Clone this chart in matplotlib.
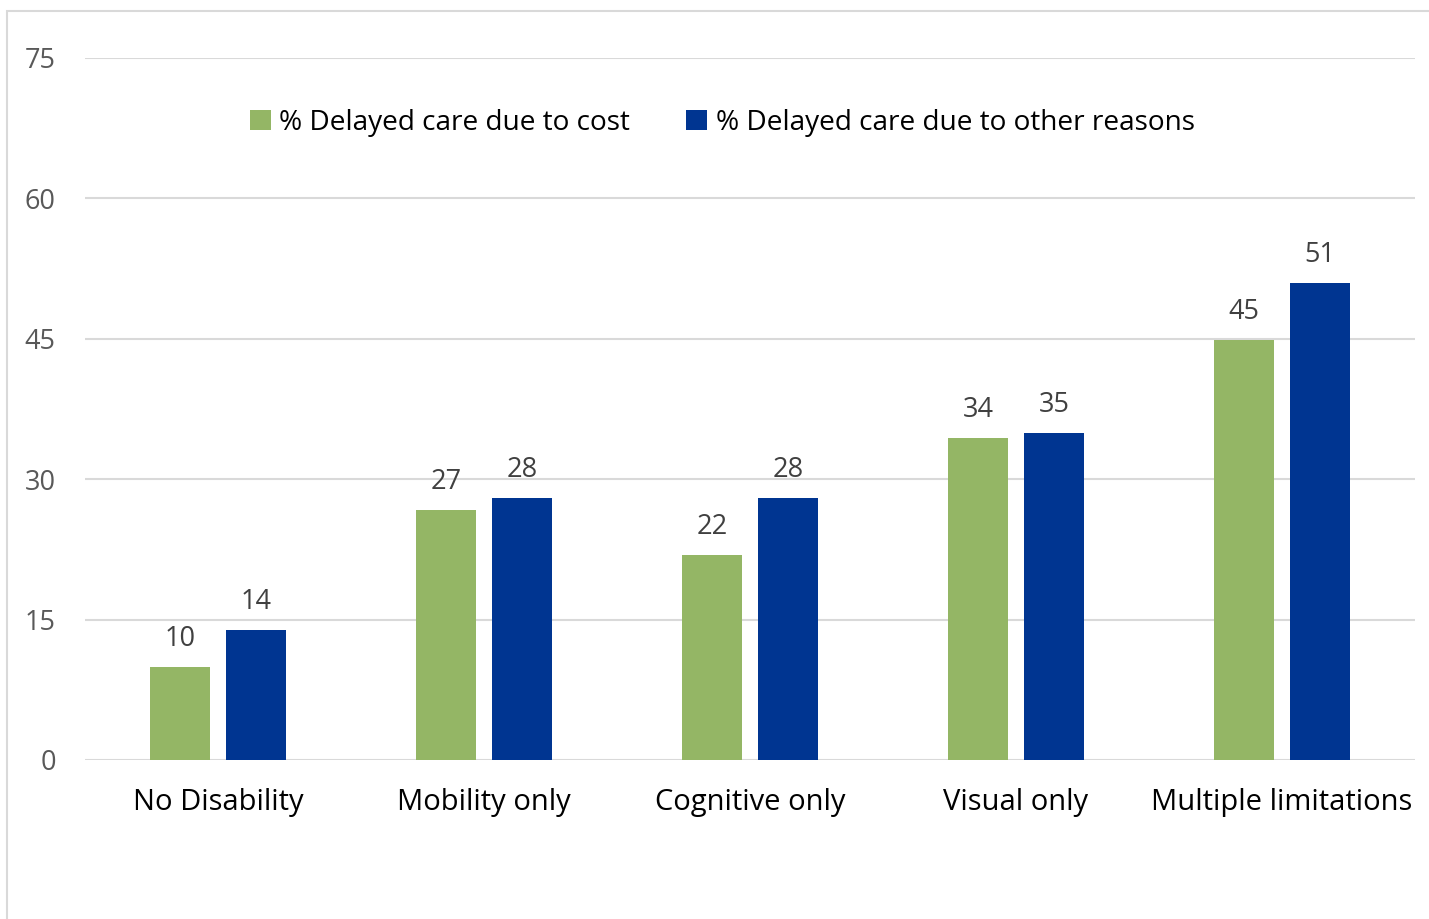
import matplotlib.pyplot as plt
import numpy as np
from matplotlib.patches import Rectangle

# Data
categories = ["No Disability", "Mobility only", "Cognitive only", "Visual only", "Multiple limitations"]
cost = [9.9, 26.7, 21.9, 34.4, 44.9]
other = [13.9, 28.0, 28.0, 34.9, 51.0]
series_names = ["% Delayed care due to cost", "% Delayed care due to other reasons"]

green = "#94b665"
blue = "#003591"

plt.rcParams['font.family'] = ['Open Sans', 'DejaVu Sans']

fig = plt.figure(figsize=(14.29, 9.19), dpi=100)
ax = fig.add_axes([85/1429, 1 - 760/919, 1330/1429, 702/919])

# light frame around the chart area
fig.patches.append(Rectangle((7/1429, -0.1), 1.2, 1 - 11/919 + 0.1, transform=fig.transFigure,
                             fill=False, edgecolor="#d9d9d9", linewidth=1.5))

x = np.arange(len(categories))
w = 60/266
off = 38/266
b1 = ax.bar(x - off, cost, w, color=green, label=series_names[0], zorder=3)
b2 = ax.bar(x + off, other, w, color=blue, label=series_names[1], zorder=3)

for bars in (b1, b2):
    for r in bars:
        ax.annotate(f"{r.get_height():.0f}", (r.get_x() + r.get_width()/2, r.get_height()),
                    xytext=(0, 10), textcoords="offset points", ha="center", va="bottom",
                    fontsize=19.5, color="#404040")

ax.set_xlim(-0.5, 4.5)
ax.set_ylim(0, 75)
ax.set_yticks([0, 15, 30, 45, 60, 75])
ax.set_xticks(x)
ax.set_xticklabels(categories, fontsize=21, color="#000000")
ax.tick_params(axis="y", labelsize=19.5, labelcolor="#595959", length=0, pad=21)
ax.tick_params(axis="x", length=0, pad=20)
ax.grid(axis="y", color="#d9d9d9", linewidth=1.5, zorder=0)
for s in ax.spines.values():
    s.set_visible(False)

ax.legend(loc="center", bbox_to_anchor=(0.479, (760-123)/702), ncol=2, frameon=False,
          fontsize=20.2, handlelength=0.75, handleheight=0.75, handletextpad=0.3, columnspacing=2.0)

fig.savefig("out.png", dpi=100)
